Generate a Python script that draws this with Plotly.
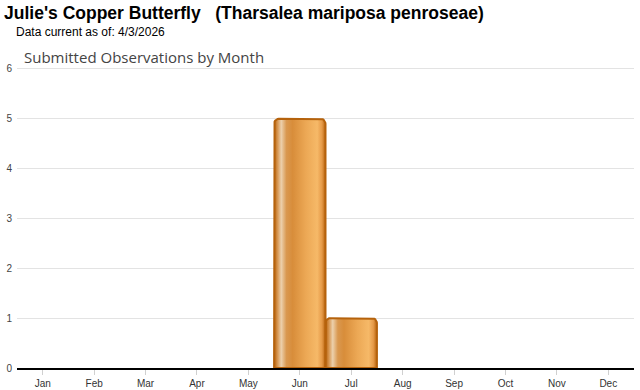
import numpy as np
import plotly.graph_objects as go

months = ["Jan", "Feb", "Mar", "Apr", "May", "Jun", "Jul", "Aug", "Sep", "Oct", "Nov", "Dec"]
observations = [0, 0, 0, 0, 0, 5, 1, 0, 0, 0, 0, 0]
y_ticks = [0, 1, 2, 3, 4, 5, 6]

title_main = "Julie's Copper Butterfly   (Tharsalea mariposa penroseae)"
subtitle = "Data current as of: 4/3/2026"
chart_title = "Submitted Observations by Month"

bar_colorscale = [
    [0.00, "#b4600c"],
    [0.06, "#d49048"],
    [0.14, "#ecd0ac"],
    [0.24, "#d99850"],
    [0.36, "#d88d3a"],
    [0.62, "#eca855"],
    [0.84, "#f6b968"],
    [0.93, "#e69a48"],
    [1.00, "#b8640e"],
]

fig = go.Figure()

rx, ry = 0.09, 0.1
for i, v in enumerate(observations):
    if v <= 0:
        continue
    x0, x1 = i - 0.5, i + 0.5
    t1 = np.linspace(np.pi, np.pi / 2, 8)
    t2 = np.linspace(np.pi / 2, 0, 8)
    xs = [x0] + list(x0 + rx + rx * np.cos(t1)) + list(x1 - rx + rx * np.cos(t2)) + [x1, x0]
    ys = [0] + list(v - ry + ry * np.sin(t1)) + list(v - ry + ry * np.sin(t2)) + [0, 0]
    fig.add_trace(go.Scatter(
        x=xs, y=ys, mode="lines", fill="toself",
        fillgradient=dict(type="horizontal", colorscale=bar_colorscale, start=x0, stop=x1),
        line=dict(color="#b5620c", width=2),
        hoverinfo="skip", showlegend=False,
    ))

W, H = 640, 390
l, r, t, b = 17, 6, 67, 22
pw, ph = W - l - r, H - t - b

fig.update_layout(
    width=W, height=H,
    margin=dict(l=l, r=r, t=t, b=b, autoexpand=False),
    paper_bgcolor="white", plot_bgcolor="white",
    font=dict(family="Liberation Sans, Arial, sans-serif", size=10, color="#444"),
    xaxis=dict(
        range=[-0.5, 11.5], tickmode="array", tickvals=list(range(12)), ticktext=months,
        showgrid=False, zeroline=False, showline=True, linecolor="#000", linewidth=1.5,
        ticks="outside", ticklen=5, tickcolor="#d0d0d0", tickwidth=1,
        tickfont=dict(size=10, color="#333"), fixedrange=True, automargin=False,
    ),
    yaxis=dict(
        range=[0, 6.04], tickmode="array", tickvals=y_ticks,
        showgrid=True, gridcolor="#e3e3e3", gridwidth=1, zeroline=False, showline=False,
        ticks="", tickfont=dict(size=10, color="#444"), fixedrange=True, automargin=False,
        ticklabelstandoff=4,
    ),
)


def px_ann(text, x, y, font):
    return dict(text=text, x=(x - l) / pw, y=1 + (t - y) / ph, xref="paper", yref="paper",
                xanchor="left", yanchor="top", showarrow=False, font=font, borderpad=0)


fig.update_layout(annotations=[
    px_ann(f"<b>{title_main}</b>", 3, 2,
           dict(family="Liberation Sans, Arial", size=17.5, color="#000")),
    px_ann(subtitle, 15, 24.5, dict(family="Liberation Sans, Arial", size=12, color="#000")),
    px_ann(chart_title, 23, 46.5, dict(family="Open Sans, sans-serif", size=15, color="#444")),
])

fig.write_html("out.html", config={"displayModeBar": False})
